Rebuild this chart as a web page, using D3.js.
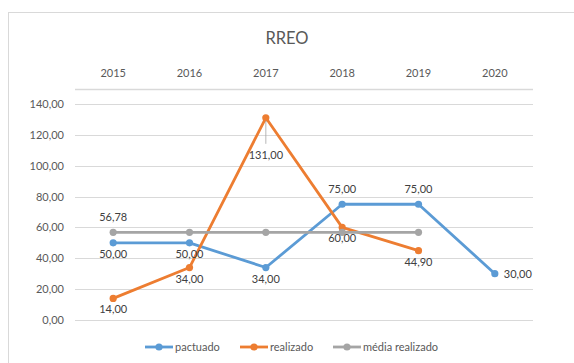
<!DOCTYPE html>
<html><head><meta charset="utf-8">
<script src="https://cdn.jsdelivr.net/npm/d3@7"></script>
<style>body{margin:0;background:#fff}svg{display:block}</style>
</head><body>
<svg id="c" width="574" height="363"></svg>
<script>
const years = ["2015","2016","2017","2018","2019","2020"];
const pactuado = [50, 50, 34, 75, 75, 30];
const realizado = [14, 34, 131, 60, 44.9, null];
const media = [56.78, 56.78, 56.78, 56.78, 56.78, null];
const yTicks = [0, 20, 40, 60, 80, 100, 120, 140];
const seriesNames = ["pactuado", "realizado", "média realizado"];
// label positions per point: 'b' below, 'a' above, 'r' right, 'bl' below with leader, null none
const pactuadoLbl = ["b","b","b","a","a","r"];
const realizadoLbl = ["b","b","bl","b","b",null];
const mediaLbl = ["a",null,null,null,null,null];

const colors = ["#5B9BD5", "#ED7D31", "#A5A5A5"];
const font = "Lato, 'Liberation Sans', sans-serif";
const svg = d3.select("#c");
const fmt = v => d3.format(".2f")(v).replace(".", ",");

svg.append("rect").attr("x", 8.5).attr("y", 12.5).attr("width", 580).attr("height", 360)
  .attr("fill", "#fff").attr("stroke", "#D9D9D9");

const x = d3.scaleBand().domain(years).range([75, 533]);
const y = d3.scaleLinear().domain([0, 150]).range([320, 88.5]);

svg.append("text").attr("x", 287).attr("y", 44).attr("text-anchor", "middle")
  .attr("font-family", font).attr("font-size", 16.5).attr("fill", "#595959").text("RREO");

// gridlines
const g = svg.append("g");
g.selectAll("line.grid").data(yTicks).join("line")
  .attr("x1", 75).attr("x2", 533).attr("y1", d => Math.round(y(d)) + 0.5).attr("y2", d => Math.round(y(d)) + 0.5)
  .attr("stroke", "#D9D9D9").attr("stroke-width", 1);
// top axis line (category axis at max)
g.append("line").attr("x1", 75).attr("x2", 533).attr("y1", Math.round(y(150)) + 0.5).attr("y2", Math.round(y(150)) + 0.5)
  .attr("stroke", "#D9D9D9").attr("stroke-width", 1.5);

// y axis labels
const yAxis = d3.axisLeft(y).tickValues(yTicks).tickFormat(fmt).tickSize(0).tickPadding(0);
const ya = svg.append("g").attr("transform", "translate(64,0)").call(yAxis);
ya.select(".domain").remove();
ya.selectAll("text").attr("font-family", font).attr("font-size", 11).attr("fill", "#595959");

// x axis labels at top
const xAxis = d3.axisTop(x).tickSize(0).tickPadding(0);
const xa = svg.append("g").attr("transform", "translate(0,77)").call(xAxis);
xa.select(".domain").remove();
xa.selectAll("text").attr("font-family", font).attr("font-size", 11).attr("fill", "#595959");

const cx = d => x(d) + x.bandwidth() / 2;
const allSeries = [pactuado, realizado, media];
const allLbl = [pactuadoLbl, realizadoLbl, mediaLbl];
const line = d3.line().defined(d => d.v != null).x(d => cx(d.k)).y(d => y(d.v));

// draw order: pactuado, realizado, media (media on top of others? keep Excel order)
allSeries.forEach((s, i) => {
  const pts = years.map((k, j) => ({k, v: s[j]}));
  svg.append("path").datum(pts).attr("d", line).attr("fill", "none")
    .attr("stroke", colors[i]).attr("stroke-width", 2.8).attr("stroke-linejoin", "round").attr("stroke-linecap", "round");
  svg.selectAll(null).data(pts.filter(d => d.v != null)).join("circle")
    .attr("cx", d => cx(d.k)).attr("cy", d => y(d.v)).attr("r", 3.6).attr("fill", colors[i]);
});

// data labels
allSeries.forEach((s, i) => {
  years.forEach((k, j) => {
    const pos = allLbl[i][j];
    if (!pos || s[j] == null) return;
    const px = cx(k), py = y(s[j]);
    let tx = px, ty = py, anchor = "middle";
    if (pos === "b") ty = py + 15;
    else if (pos === "a") ty = py - 11;
    else if (pos === "r") { tx = px + 9; ty = py + 4; anchor = "start"; }
    else if (pos === "bl") {
      ty = py + 41;
      svg.append("line").attr("x1", px).attr("x2", px).attr("y1", py + 3).attr("y2", py + 26)
        .attr("stroke", "#A6A6A6").attr("stroke-width", 0.8);
    }
    svg.append("text").attr("x", tx).attr("y", ty).attr("text-anchor", anchor)
      .attr("font-family", font).attr("font-size", 11).attr("fill", "#404040").text(fmt(s[j]));
  });
});

// legend
const legX = [145, 240, 333];
seriesNames.forEach((n, i) => {
  const lg = svg.append("g").attr("transform", `translate(${legX[i]},347)`);
  lg.append("line").attr("x1", 0).attr("x2", 28).attr("y1", 0).attr("y2", 0)
    .attr("stroke", colors[i]).attr("stroke-width", 2.8);
  lg.append("circle").attr("cx", 14).attr("cy", 0).attr("r", 3.6).attr("fill", colors[i]);
  lg.append("text").attr("x", 30).attr("y", 4).attr("font-family", font).attr("font-size", 11)
    .attr("fill", "#595959").text(n);
});
</script>
</body></html>
